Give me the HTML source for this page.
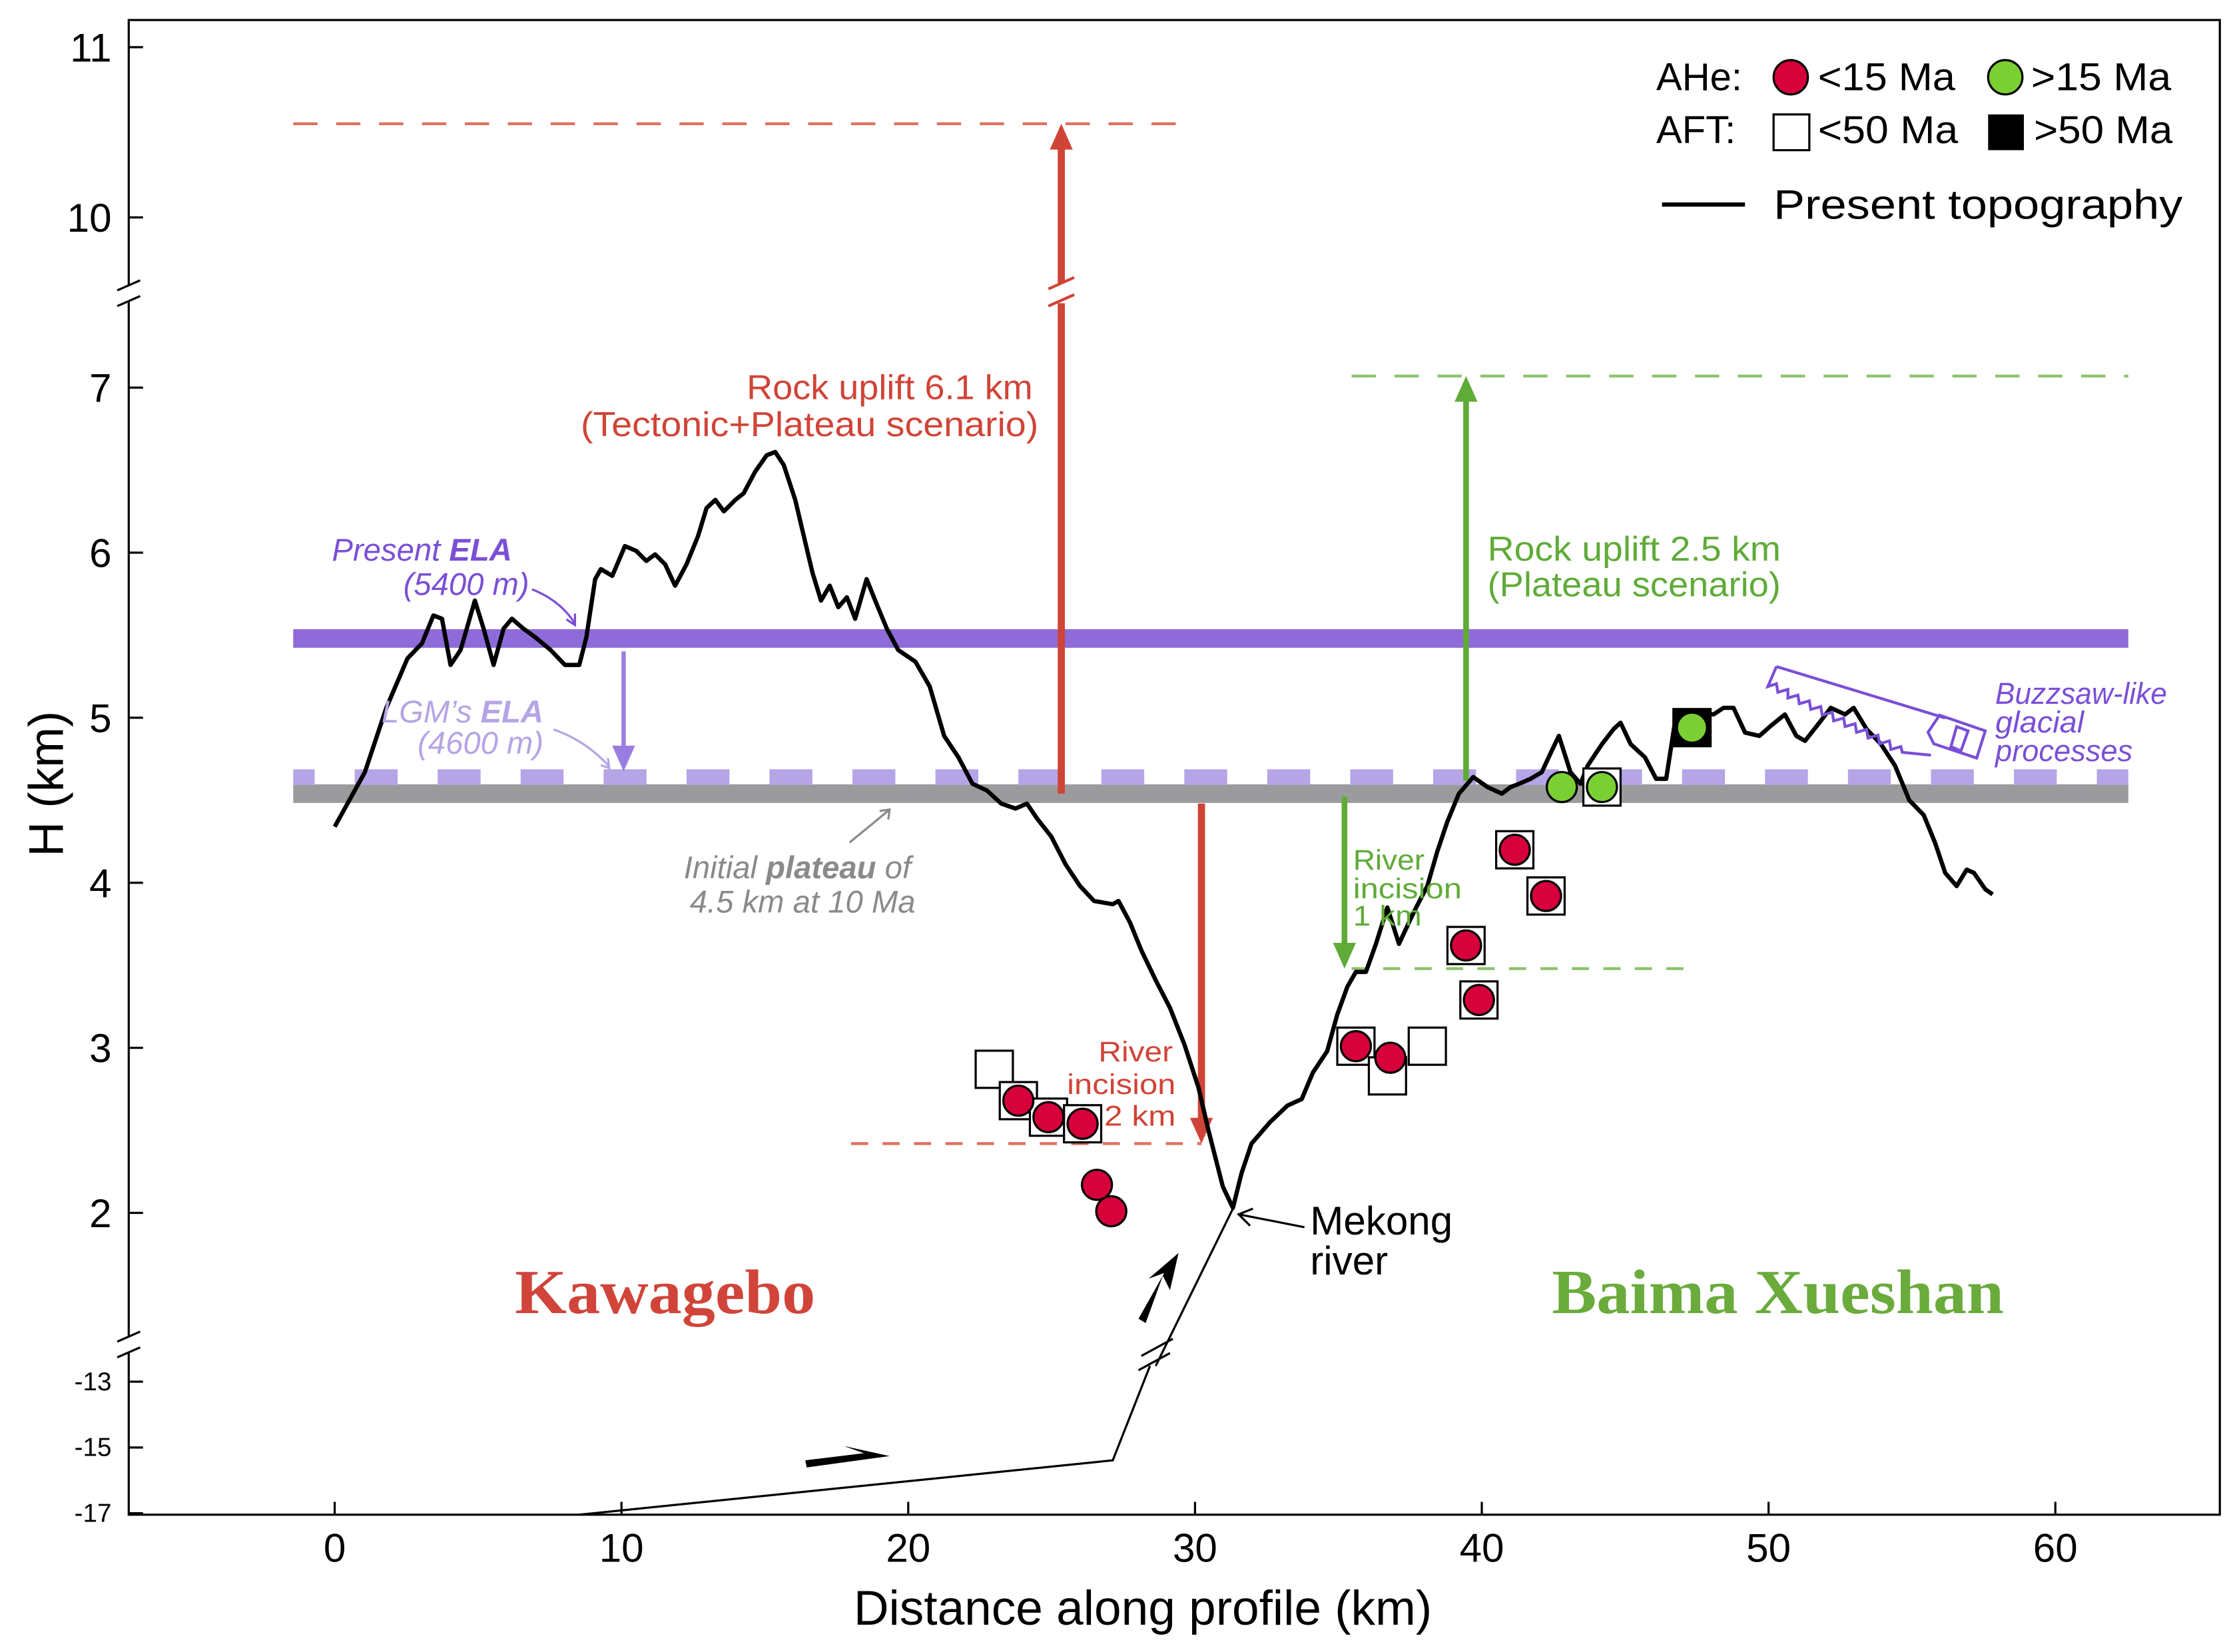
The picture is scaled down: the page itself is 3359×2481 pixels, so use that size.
<!DOCTYPE html>
<html><head><meta charset="utf-8"><style>
html,body{margin:0;padding:0;background:#fff}
svg{display:block}
text{font-family:"Liberation Sans",sans-serif}
</style></head><body>
<svg id="chart" width="3359" height="2481" viewBox="0 0 1564 1155" preserveAspectRatio="none" xmlns="http://www.w3.org/2000/svg">
<rect x="0" y="0" width="1564" height="1155" fill="#fff"/>
<g id="bands"></g>
<g id="marks"></g>
<g id="labels">
<text x="622" y="279" fill="#d04437" font-size="24" text-anchor="middle" textLength="200" lengthAdjust="spacingAndGlyphs">Rock uplift 6.1 km</text>
<text x="566" y="305" fill="#d04437" font-size="24" text-anchor="middle" textLength="320" lengthAdjust="spacingAndGlyphs">(Tectonic+Plateau scenario)</text>
<text x="1040" y="392" fill="#5fab38" font-size="24" textLength="205" lengthAdjust="spacingAndGlyphs">Rock uplift 2.5 km</text>
<text x="1040" y="417" fill="#5fab38" font-size="24" textLength="205" lengthAdjust="spacingAndGlyphs">(Plateau scenario)</text>
<g fill="#5fab38" font-size="20">
<text x="946" y="608" textLength="50" lengthAdjust="spacingAndGlyphs">River</text>
<text x="946" y="628" textLength="76" lengthAdjust="spacingAndGlyphs">incision</text>
<text x="946" y="647" textLength="48" lengthAdjust="spacingAndGlyphs">1 km</text></g>
<g fill="#d04437" font-size="20" text-anchor="end">
<text x="820" y="742" textLength="52" lengthAdjust="spacingAndGlyphs">River</text>
<text x="822" y="765" textLength="76" lengthAdjust="spacingAndGlyphs">incision</text>
<text x="822" y="787" textLength="50" lengthAdjust="spacingAndGlyphs">2 km</text></g>
<g fill="#7a4fd6" font-size="22" font-style="italic" text-anchor="end">
<text x="358" y="392">Present <tspan font-weight="bold">ELA</tspan></text>
<text x="370" y="416">(5400 m)</text></g>
<path d="M372,412 Q392,420 402,436 M396,433 L402,437 L402,429" fill="none" stroke="#7a4fd6" stroke-width="1.5"/>
<g fill="#b5a4e6" font-size="22" font-style="italic" text-anchor="end">
<text x="380" y="505">LGM’s <tspan font-weight="bold">ELA</tspan></text>
<text x="380" y="527">(4600 m)</text></g>
<path d="M387,510 Q410,518 426,536 M420,535 L426,537 L425,530" fill="none" stroke="#b5a4e6" stroke-width="1.5"/>
<g fill="#8a8a8a" font-size="22" font-style="italic" text-anchor="end">
<text x="637" y="614">Initial <tspan font-weight="bold">plateau</tspan> of</text>
<text x="640" y="638">4.5 km at 10 Ma</text></g>
<path d="M594,589 Q610,576 622,566 M615,567 L622,566 L621,573" fill="none" stroke="#8a8a8a" stroke-width="1.5"/>
<text x="465" y="918" fill="#d0443a" font-size="44" font-weight="bold" text-anchor="middle" style="font-family:'Liberation Serif',serif" textLength="210" lengthAdjust="spacingAndGlyphs">Kawagebo</text>
<text x="1243" y="918" fill="#6aab3c" font-size="44" font-weight="bold" text-anchor="middle" style="font-family:'Liberation Serif',serif" textLength="316" lengthAdjust="spacingAndGlyphs">Baima Xueshan</text>
<text x="916" y="863" font-size="28">Mekong</text>
<text x="916" y="891" font-size="28">river</text>
<path d="M912,858 L866,849 M876,845 L866,849 L874,857" fill="none" stroke="#000" stroke-width="1.5"/>
<g fill="#7a4fd6" font-size="21" font-style="italic">
<text x="1395" y="492" textLength="120" lengthAdjust="spacingAndGlyphs">Buzzsaw-like</text>
<text x="1395" y="512" textLength="62" lengthAdjust="spacingAndGlyphs">glacial</text>
<text x="1395" y="532" textLength="96" lengthAdjust="spacingAndGlyphs">processes</text></g>
<path d="M1242,466 L1360,502 M1242,466 L1236,480 L1242,478 L1243,484 L1250,482 L1250,488 L1257,486 L1258,492 L1265,490 L1266,496 L1273,494 L1274,500 L1281,498 L1282,504 L1289,502 L1290,508 L1297,506 L1298,512 L1305,510 L1306,516 L1313,514 L1314,520 L1321,518 L1322,524 L1329,522 L1330,526 L1350,528 M1356,500 L1388,511 L1382,530 L1352,520 L1348,512 Z M1368,508 L1376,511 L1371,525 L1364,522 Z" fill="none" stroke="#7a4fd6" stroke-width="2"/>
</g>
<g id="legend" font-size="27">
<text x="1158" y="63">AHe:</text>
<circle cx="1252" cy="54" r="12" fill="#d6003a" stroke="#000" stroke-width="1.5"/>
<text x="1271" y="63" textLength="96" lengthAdjust="spacingAndGlyphs">&lt;15 Ma</text>
<circle cx="1402" cy="54" r="12" fill="#7ad032" stroke="#000" stroke-width="1.5"/>
<text x="1420" y="63" textLength="98" lengthAdjust="spacingAndGlyphs">&gt;15 Ma</text>
<text x="1158" y="100">AFT:</text>
<rect x="1240" y="80" width="25" height="25" fill="#fff" stroke="#000" stroke-width="1.5"/>
<text x="1271" y="100" textLength="98" lengthAdjust="spacingAndGlyphs">&lt;50 Ma</text>
<rect x="1390" y="80" width="25" height="25" fill="#000"/>
<text x="1422" y="100" textLength="97" lengthAdjust="spacingAndGlyphs">&gt;50 Ma</text>
<line x1="1162" y1="143" x2="1220" y2="143" stroke="#000" stroke-width="3"/>
<text x="1240" y="153" font-size="29" textLength="286" lengthAdjust="spacingAndGlyphs">Present topography</text>
</g>
<g id="axes"></g>
</svg>
<script>
const topoKm=[0,1.05,1.8,2.54,3.04,3.44,3.74,4.04,4.39,4.89,5.19,5.54,5.89,6.18,6.58,6.98,7.53,8.03,8.53,8.78,9.08,9.28,9.68,10.12,10.52,10.87,11.17,11.52,11.87,12.27,12.67,12.97,13.27,13.57,13.97,14.26,14.66,15.06,15.36,15.66,16.06,16.36,16.66,16.96,17.26,17.56,17.86,18.15,18.55,18.85,19.25,19.65,20.25,20.75,21.25,21.75,22.24,22.74,23.24,23.74,24.14,24.49,24.99,25.49,25.99,26.48,27.13,27.33,27.73,28.13,28.63,29.13,29.63,30.12,30.47,30.72,30.97,31.32,31.62,31.97,32.62,33.22,33.72,34.11,34.61,34.96,35.31,35.61,35.96,36.31,36.71,37.11,37.46,37.71,38.1,38.45,38.8,39.2,39.7,40.2,40.7,41,41.3,41.7,42.09,42.44,42.69,43.09,43.44,43.69,44.19,44.59,44.84,45.19,45.69,46.08,46.43,46.78,47.18,47.68,48.08,48.43,48.78,49.18,49.68,50.07,50.57,50.97,51.27,51.77,52.17,52.67,52.97,53.42,53.92,54.41,54.91,55.41,55.81,56.16,56.56,56.91,57.16,57.56,57.81];
const topoH=[4.34,4.67,5.06,5.36,5.45,5.62,5.6,5.32,5.41,5.71,5.54,5.32,5.54,5.6,5.54,5.49,5.41,5.32,5.32,5.49,5.84,5.9,5.86,6.04,6.01,5.95,5.99,5.93,5.8,5.93,6.1,6.27,6.32,6.25,6.32,6.36,6.49,6.59,6.61,6.53,6.32,6.1,5.88,5.71,5.8,5.67,5.73,5.6,5.84,5.71,5.54,5.41,5.34,5.19,4.89,4.76,4.6,4.56,4.48,4.45,4.48,4.39,4.28,4.11,3.98,3.89,3.87,3.89,3.76,3.59,3.41,3.24,3.02,2.76,2.5,2.33,2.16,2.03,2.24,2.42,2.55,2.65,2.69,2.85,2.98,3.2,3.37,3.46,3.46,3.63,3.85,3.63,3.76,3.85,3.98,4.19,4.37,4.54,4.64,4.58,4.54,4.58,4.6,4.63,4.67,4.8,4.89,4.67,4.6,4.71,4.84,4.93,4.97,4.84,4.76,4.63,4.63,5.02,5.04,5.03,5.02,5.06,5.06,4.91,4.89,4.95,5.02,4.89,4.86,4.97,5.06,5.02,5.06,4.93,4.84,4.71,4.5,4.41,4.24,4.06,3.98,4.08,4.06,3.96,3.93];
const sampleKm=[23.0,23.84,24.89,26.08,35.61,36.71,38.1,39.45,39.9,41.15,42.24,44.19,47.33];
const sampleH=[2.87,2.68,2.58,2.54,3.01,2.83,3.01,3.62,3.29,4.2,3.92,4.58,4.94];
const sampleAft=['s','s','s','s','s','s','s','s','s','s','s','s','b'];
const aheKm=[23.84,24.89,26.08,26.58,27.08,35.61,36.81,39.45,39.9,41.15,42.24,42.79,44.19,47.33];
const aheH=[2.68,2.58,2.54,2.17,2.01,3.01,2.94,3.62,3.29,4.2,3.92,4.58,4.58,4.94];
const aheType=['c','c','c','c','c','c','c','c','c','c','c','g','g','g'];
const xTicks=[0,10,20,30,40,50,60];
const yTicksUpper=[10,11];
const yTicksMain=[2,3,4,5,6,7];
const yTicksLower=[-13,-15,-17];
const presentELA=5.48, lgmELA=4.64, plateauH=4.54;
const uplift1Top=10.55, uplift2Top=7.07, incision1Bottom=3.48, incision2Bottom=2.42;

const NS='http://www.w3.org/2000/svg';
function xs(k){return 234+k*20.05;}
function ys(h){ if(h>=9)return 152-(h-10)*119; if(h>=1)return 848-(h-2)*115.4; return 966+(-13-h)*23;}
function mk(tag,attrs,parent){const e=document.createElementNS(NS,tag);for(const k in attrs)e.setAttribute(k,attrs[k]);(parent||document.getElementById('marks')).appendChild(e);return e;}
const bands=document.getElementById('bands'), marks=document.getElementById('marks'), axes=document.getElementById('axes');
const X0=205,X1=1488;
let e;
e=mk('rect',{x:X0,y:ys(plateauH)-6.5,width:X1-X0,height:13,fill:'#9b9b9d'},bands);


e=mk('line',{x1:X0,x2:X1,y1:ys(lgmELA),y2:ys(lgmELA),stroke:'#b5a4e6','stroke-width':11,'stroke-dasharray':'30 28','stroke-dashoffset':15},bands);


e=mk('rect',{x:X0,y:ys(presentELA)-6.5,width:X1-X0,height:13,fill:'#8e6bd8'},bands);


e=mk('line',{x1:X0,x2:835,y1:ys(uplift1Top),y2:ys(uplift1Top),stroke:'#e07060','stroke-width':2,'stroke-dasharray':'17 13'},bands);


e=mk('line',{x1:595,x2:840,y1:ys(incision2Bottom),y2:ys(incision2Bottom),stroke:'#e07060','stroke-width':2,'stroke-dasharray':'12 10'},bands);


e=mk('line',{x1:945,x2:X1,y1:ys(uplift2Top),y2:ys(uplift2Top),stroke:'#8cc36c','stroke-width':2,'stroke-dasharray':'17 13'},bands);


e=mk('line',{x1:945,x2:1178,y1:ys(incision1Bottom),y2:ys(incision1Bottom),stroke:'#8cc36c','stroke-width':2,'stroke-dasharray':'12 10'},bands);



function arrow(x,y1,y2,col,w,name){
  const dir=y2<y1?-1:1;
  const l=mk('line',{x1:x,x2:x,y1:y1,y2:y2-dir*16,stroke:col,'stroke-width':w},marks);
  
  
  const h=mk('polygon',{points:`${x-8},${y2-dir*18} ${x+8},${y2-dir*18} ${x},${y2}`,fill:col},marks);
  
  
}
arrow(742,ys(plateauH),ys(uplift1Top),'#d04437',5,'rock-uplift-6-1-arrow');
e=mk('rect',{x:735,y:198,width:14,height:14,fill:'#fff'},marks);


e=mk('path',{d:'M733,202 L751,194 M733,214 L751,206',stroke:'#d04437','stroke-width':2,fill:'none'},marks);


arrow(840,ys(4.48),ys(incision2Bottom),'#d04437',5,'river-incision-2km-arrow');
arrow(1025,ys(plateauH)-9,ys(uplift2Top),'#5fab38',4,'rock-uplift-2-5-arrow');
arrow(940,ys(4.54)+2,ys(incision1Bottom),'#5fab38',4,'river-incision-1km-arrow');
arrow(436,ys(presentELA)+9,ys(lgmELA)-4,'#9a7de0',3,'ela-lowering-arrow');

e=mk('path',{d:'M862,845 L808,955 M804,955 L778,1021 L405,1059',stroke:'#000','stroke-width':1.5,fill:'none'},marks);


e=mk('path',{d:'M798,948 L820,936 M796,958 L818,946',stroke:'#000','stroke-width':1.5,fill:'none'},marks);


e=mk('polygon',{points:'796,922 814,890 803,894 824,876 818,902 813,892 801,925',fill:'#000'},marks);


e=mk('polygon',{points:'563,1021 604,1016 590,1011 622,1018 564,1026',fill:'#000'},marks);



let d='';topoKm.forEach((k,i)=>{d+=(i?'L':'M')+xs(k).toFixed(1)+','+ys(topoH[i]).toFixed(1);});
e=mk('path',{d:d,fill:'none',stroke:'#000','stroke-width':3,'stroke-linejoin':'round'},marks);



sampleKm.forEach((k,i)=>{
  const r=mk('rect',{x:xs(k)-13,y:ys(sampleH[i])-13,width:26,height:26,fill:sampleAft[i]==='b'?'#000':'#fff',stroke:'#000','stroke-width':1.5},marks);
  
  
});
aheKm.forEach((k,i)=>{
  const c=mk('circle',{cx:xs(k),cy:ys(aheH[i]),r:10.5,fill:aheType[i]==='g'?'#7ad032':'#d6003a',stroke:'#000','stroke-width':1.5},marks);
  
  
});

e=mk('rect',{x:90,y:14,width:1462,height:1045,fill:'none',stroke:'#000','stroke-width':1.5},axes);


[205,940].forEach(y=>{
  const w=mk('rect',{x:84,y:y-6,width:12,height:12,fill:'#fff'},axes);
  
  
  const p=mk('path',{d:`M82,${y-2} L98,${y-9} M82,${y+9} L98,${y+2}`,stroke:'#000','stroke-width':1.5,fill:'none'},axes);
  
  
});
xTicks.forEach(t=>{
  const x=xs(t);
  const l=mk('line',{x1:x,x2:x,y1:1059,y2:1050,stroke:'#000','stroke-width':1.5},axes);
  
  
  const tx=mk('text',{x:x,y:1092,'font-size':28,'text-anchor':'middle'},axes);tx.textContent=t;
  
  
});
function yt(arr,size,off){arr.forEach(t=>{const y=ys(t);
  const l=mk('line',{x1:90,x2:100,y1:y,y2:y,stroke:'#000','stroke-width':1.5},axes);
  
  
  const tx=mk('text',{x:78,y:y+off,'font-size':size,'text-anchor':'end'},axes);tx.textContent=t;
  
  });}
yt(yTicksUpper,28,10);yt(yTicksMain,28,10);yt(yTicksLower,18,6);
e=mk('text',{x:799,y:1136,'font-size':34,'text-anchor':'middle'},axes);e.textContent='Distance along profile (km)';


e=mk('text',{x:0,y:0,'font-size':34,'text-anchor':'middle',transform:'translate(44,548) rotate(-90)'},axes);e.textContent='H (km)';


</script>
</body></html>
